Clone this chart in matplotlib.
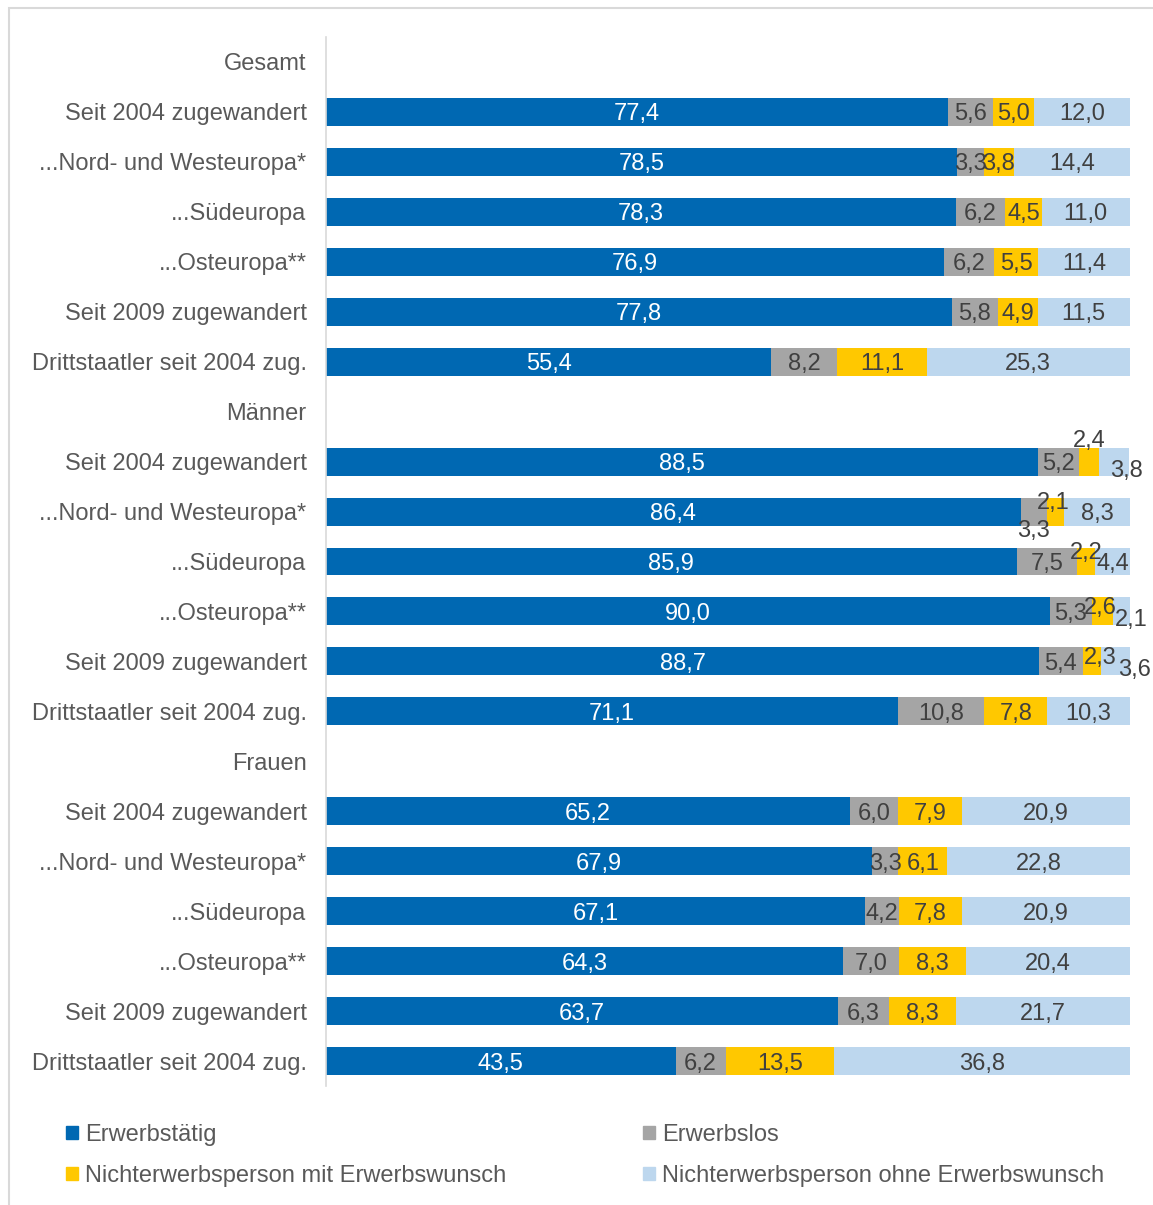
import numpy as np
import matplotlib
matplotlib.use("Agg")
import matplotlib.pyplot as plt
from matplotlib.patches import Rectangle, Patch

plt.rcParams['font.family'] = ['Liberation Sans', 'DejaVu Sans']

# categories (group headers have no bars)
categories = [
    "Gesamt",
    "Seit 2004 zugewandert", "...Nord- und Westeuropa*", "...Südeuropa",
    "...Osteuropa**", "Seit 2009 zugewandert", "Drittstaatler seit 2004 zug.",
    "Männer",
    "Seit 2004 zugewandert", "...Nord- und Westeuropa*", "...Südeuropa",
    "...Osteuropa**", "Seit 2009 zugewandert", "Drittstaatler seit 2004 zug.",
    "Frauen",
    "Seit 2004 zugewandert", "...Nord- und Westeuropa*", "...Südeuropa",
    "...Osteuropa**", "Seit 2009 zugewandert", "Drittstaatler seit 2004 zug.",
]
nan = np.nan
erwerbstaetig = [nan, 77.4, 78.5, 78.3, 76.9, 77.8, 55.4,
                 nan, 88.5, 86.4, 85.9, 90.0, 88.7, 71.1,
                 nan, 65.2, 67.9, 67.1, 64.3, 63.7, 43.5]
erwerbslos = [nan, 5.6, 3.3, 6.2, 6.2, 5.8, 8.2,
              nan, 5.2, 3.3, 7.5, 5.3, 5.4, 10.8,
              nan, 6.0, 3.3, 4.2, 7.0, 6.3, 6.2]
mit_wunsch = [nan, 5.0, 3.8, 4.5, 5.5, 4.9, 11.1,
              nan, 2.4, 2.1, 2.2, 2.6, 2.3, 7.8,
              nan, 7.9, 6.1, 7.8, 8.3, 8.3, 13.5]
ohne_wunsch = [nan, 12.0, 14.4, 11.0, 11.4, 11.5, 25.3,
               nan, 3.8, 8.3, 4.4, 2.1, 3.6, 10.3,
               nan, 20.9, 22.8, 20.9, 20.4, 21.7, 36.8]

series = [
    ("Erwerbstätig", erwerbstaetig, "#0068B2", "white"),
    ("Erwerbslos", erwerbslos, "#A5A5A5", "#404040"),
    ("Nichterwerbsperson mit Erwerbswunsch", mit_wunsch, "#FFC800", "#404040"),
    ("Nichterwerbsperson ohne Erwerbswunsch", ohne_wunsch, "#BDD7EE", "#404040"),
]

# label nudges in pixels for crowded small segments: (row, series) -> (dx, dy)
nudges = {
    (8, 2): (0, 23), (8, 3): (13, -7),
    (9, 1): (0, -17), (9, 2): (-2, 11),
    (10, 2): (0, 11), (10, 3): (1, 0),
    (11, 2): (-2, 6), (11, 3): (10, -6),
    (12, 2): (8, 6), (12, 3): (19, -6),
}

fig = plt.figure(figsize=(11.53, 12.05), dpi=100)
ax = fig.add_axes([326 / 1153, 1 - 1086 / 1205, 804 / 1153, 1049 / 1205])

y = np.arange(len(categories))
left = np.zeros(len(categories))
for si, (name, vals, col, tcol) in enumerate(series):
    v = np.array(vals, dtype=float)
    ax.barh(y, np.nan_to_num(v), left=left, height=0.56, color=col, label=name)
    for i, val in enumerate(v):
        if np.isnan(val):
            continue
        dx, dy = nudges.get((i, si), (0, 0))
        ax.annotate(f"{val:.1f}".replace(".", ","), (left[i] + val / 2, i),
                    xytext=(dx, dy), textcoords="offset pixels",
                    ha="center", va="center_baseline", fontsize=17, color=tcol)
    left += np.nan_to_num(v)

ax.set_xlim(0, 100)
ax.set_ylim(len(categories) - 0.5, -0.5)
ax.set_yticks(y)
ax.set_yticklabels(categories, fontsize=17, color="#595959")
ax.tick_params(axis="y", length=0, pad=14)
ax.set_xticks([])
for s in ["top", "right", "bottom"]:
    ax.spines[s].set_visible(False)
ax.spines["left"].set_color("#D9D9D9")
ax.spines["left"].set_linewidth(1.2)

handles = [Patch(color=s[2]) for s in series]
order = [0, 2, 1, 3]
fig.legend([handles[k] for k in order], [series[k][0] for k in order],
           ncol=2, loc="upper left", bbox_to_anchor=(66 / 1153, 1 - 1124 / 1205),
           frameon=False, fontsize=17, labelcolor="#595959",
           handlelength=0.5, handleheight=0.5, handletextpad=0.3,
           columnspacing=5.8, labelspacing=0.8, borderpad=0, borderaxespad=0)

# outer frame
fig.patches.append(Rectangle((9 / 1153, -0.01), 1.1, 1 - 8 / 1205 + 0.01,
                             transform=fig.transFigure, fill=False,
                             edgecolor="#D9D9D9", linewidth=1.5))

fig.savefig("out.png", dpi=100, facecolor="white")
